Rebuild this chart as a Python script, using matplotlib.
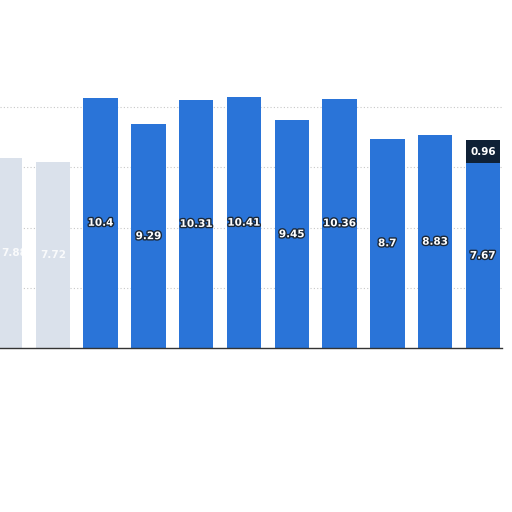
import matplotlib
matplotlib.use("Agg")
import matplotlib.pyplot as plt
import matplotlib.patheffects as pe
import numpy as np

# bar values (first two bars are faded / unreadable)
faded_vals = [7.88, 7.72]
faded_labels = ["7.88", "7.72"]
main_vals = [10.4, 9.29, 10.31, 10.41, 9.45, 10.36, 8.7, 8.83, 7.67]
top_vals = [0, 0, 0, 0, 0, 0, 0, 0, 0.96]

BLUE = "#2a74d8"
NAVY = "#0f2136"
FADED = "#dae1eb"

fig = plt.figure(figsize=(5.12, 5.12), dpi=100)
ax = fig.add_axes([0, 164 / 512, 502 / 512, 301 / 512])

n_f = len(faded_vals)
xf = np.arange(n_f)
xm = np.arange(n_f, n_f + len(main_vals))
w = 0.72

ax.bar(xf, faded_vals, width=w, color=FADED, zorder=2)
ax.bar(xm, main_vals, width=w, color=BLUE, zorder=2)
ax.bar(xm, top_vals, bottom=main_vals, width=w, color=NAVY, zorder=2)

stroke = [pe.withStroke(linewidth=2, foreground="#1b2838")]
# first faded bar is cut by the left edge, nudge its label inwards
for x, v, lab in zip(xf, faded_vals, faded_labels):
    ax.text(max(x, 0.2), v / 2, lab, ha="center", va="center", color="white",
            fontsize=7.5, fontweight="bold", alpha=0.85, zorder=3)
for x, v in zip(xm, main_vals):
    ax.text(x, v / 2, f"{v:g}", ha="center", va="center", color="white",
            fontsize=7.5, fontweight="bold", path_effects=stroke, zorder=3)
for x, b, t in zip(xm, main_vals, top_vals):
    if t > 0:
        ax.text(x, b + t / 2, f"{t:.2f}", ha="center", va="center", color="white",
                fontsize=7.5, fontweight="bold", zorder=3)

ax.set_xlim(-0.105, 10.4)
ax.set_ylim(0, 12.5)
ax.set_yticks([2.5, 5, 7.5, 10])
ax.yaxis.grid(True, linestyle=(0, (1, 2)), color="#c8c8c8", linewidth=0.8, zorder=0)
ax.set_xticks([])
ax.tick_params(left=False, labelleft=False)
for s in ["top", "right", "left"]:
    ax.spines[s].set_visible(False)
ax.spines["bottom"].set_color("#333333")
ax.spines["bottom"].set_linewidth(1)

fig.savefig("out.png", dpi=100)
